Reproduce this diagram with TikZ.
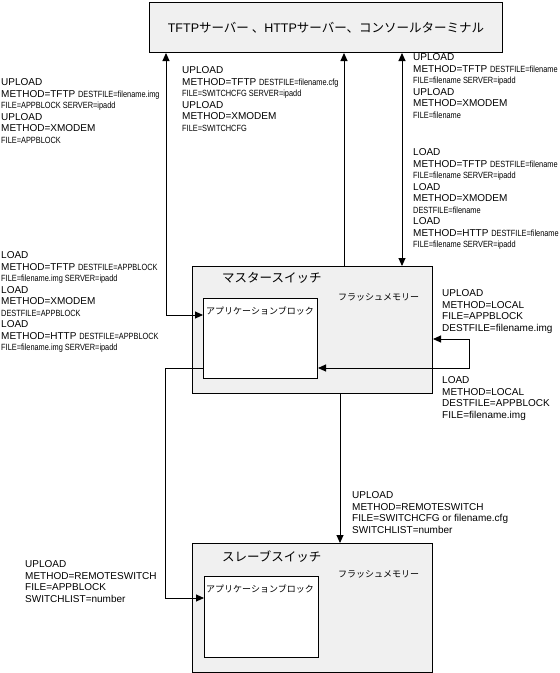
\documentclass[tikz,border=0pt]{standalone}
\usepackage{fontspec}
\setmainfont{Liberation Sans}
\newfontfamily\jpfont{Noto Sans CJK JP}
\newfontfamily\narrowsans[FakeStretch=0.82]{Liberation Sans}
\usepackage{tikz}
\usetikzlibrary{arrows.meta, positioning}
\definecolor{BoxGray}{RGB}{240,240,240}
\newcommand{\jp}[1]{{\jpfont #1}}
\newcommand{\nar}[1]{{\fontsize{9}{11.5}\selectfont\narrowsans #1}}

\begin{document}
\begin{tikzpicture}[x=1pt, y=-1pt, font=\fontsize{10}{11.5}\selectfont,
	box/.style={draw, line width=1pt, fill=BoxGray, anchor=north west, inner sep=0pt},
	appbox/.style={draw, line width=1pt, fill=white, anchor=north west, inner sep=0pt},
	lbl/.style={anchor=north west, align=left, inner sep=0pt},
	flow/.style={line width=0.9pt, -{Triangle[length=8pt, width=7pt]}},
	flowboth/.style={line width=0.9pt, {Triangle[length=8pt, width=7pt]}-{Triangle[length=8pt, width=7pt]}}]
	\useasboundingbox (0,0) rectangle (560,673);
	% server
	\node[box, minimum width=353pt, minimum height=50pt, font=\fontsize{12.5}{14}\selectfont] (server) at (149,2)
		{TFTP\jp{サーバー 、}HTTP\jp{サーバー、コンソールターミナル}};
	% master switch
	\node[box, minimum width=240pt, minimum height=127pt] (master) at (192,266) {};
	\node[appbox, minimum width=114pt, minimum height=80pt] (mapp) at (203,298) {};
	\node[anchor=west, inner sep=0pt, font=\fontsize{12.5}{14}\jpfont] (mtitle) at (222,278) {マスタースイッチ};
	\node[anchor=west, inner sep=0pt, font=\fontsize{9}{11}\jpfont] (mflash) at (338,297) {フラッシュメモリー};
	\node[anchor=west, inner sep=0pt, font=\fontsize{9}{11}\jpfont] (mapptext) at (206,311) {アプリケーションブロック};
	% slave switch
	\node[box, minimum width=240pt, minimum height=129pt] (slave) at (192,543) {};
	\node[appbox, minimum width=114pt, minimum height=81pt] (sapp) at (204,576) {};
	\node[anchor=west, inner sep=0pt, font=\fontsize{12.5}{14}\jpfont] (stitle) at (222,557) {スレーブスイッチ};
	\node[anchor=west, inner sep=0pt, font=\fontsize{9}{11}\jpfont] (sflash) at (338,574) {フラッシュメモリー};
	\node[anchor=west, inner sep=0pt, font=\fontsize{9}{11}\jpfont] (sapptext) at (206,589) {アプリケーションブロック};
	% bends
	\coordinate (lbend) at (166,315);
	\coordinate (cmid) at (344,0);
	\coordinate (cright) at (402,0);
	\coordinate (rtop) at (469,339);
	\coordinate (rlow) at (469,368);
	\coordinate (cdown) at (340,0);
	\coordinate (ltop) at (165,368);
	\coordinate (lbot) at (165,598);
	% connectors
	\draw[flowboth] (server.south -| lbend) -- (lbend) -- (lbend -| mapp.west);
	\draw[flow] (master.north -| cmid) -- (server.south -| cmid);
	\draw[flowboth] (server.south -| cright) -- (master.north -| cright);
	\draw[flowboth] (master.east |- rtop) -- (rtop) -- (rlow) -- (rlow -| mapp.east);
	\draw[flow] (master.south -| cdown) -- (slave.north -| cdown);
	\draw[flow] (ltop -| mapp.west) -- (ltop) -- (lbot) -- (lbot -| sapp.west);
	% labels
	\node[lbl] (upapp) at (1,78.4) {UPLOAD\\METHOD=TFTP \nar{DESTFILE=filename.img}\\
		\nar{FILE=APPBLOCK SERVER=ipadd}\\UPLOAD\\METHOD=XMODEM\\\nar{FILE=APPBLOCK}};
	\node[lbl] (upcfg) at (182,66.4) {UPLOAD\\METHOD=TFTP \nar{DESTFILE=filename.cfg}\\
		\nar{FILE=SWITCHCFG SERVER=ipadd}\\UPLOAD\\METHOD=XMODEM\\\nar{FILE=SWITCHCFG}};
	\node[lbl] (upfile) at (413,53.4) {UPLOAD\\METHOD=TFTP \nar{DESTFILE=filename}\\
		\nar{FILE=filename SERVER=ipadd}\\UPLOAD\\METHOD=XMODEM\\\nar{FILE=filename}};
	\node[lbl] (loadfile) at (413,148.4) {LOAD\\METHOD=TFTP \nar{DESTFILE=filename}\\
		\nar{FILE=filename SERVER=ipadd}\\LOAD\\METHOD=XMODEM\\\nar{DESTFILE=filename}\\
		LOAD\\METHOD=HTTP \nar{DESTFILE=filename}\\\nar{FILE=filename SERVER=ipadd}};
	\node[lbl] (loadapp) at (1,251.4) {LOAD\\METHOD=TFTP \nar{DESTFILE=APPBLOCK}\\
		\nar{FILE=filename.img SERVER=ipadd}\\LOAD\\METHOD=XMODEM\\\nar{DESTFILE=APPBLOCK}\\
		LOAD\\METHOD=HTTP \nar{DESTFILE=APPBLOCK}\\\nar{FILE=filename.img SERVER=ipadd}};
	\node[lbl] (uplocal) at (442,289.4) {UPLOAD\\METHOD=LOCAL\\FILE=APPBLOCK\\DESTFILE=filename.img};
	\node[lbl] (loadlocal) at (442,376.4) {LOAD\\METHOD=LOCAL\\DESTFILE=APPBLOCK\\FILE=filename.img};
	\node[lbl] (upremcfg) at (352,491.4) {UPLOAD\\METHOD=REMOTESWITCH\\FILE=SWITCHCFG or filename.cfg\\SWITCHLIST=number};
	\node[lbl] (upremapp) at (25,560.4) {UPLOAD\\METHOD=REMOTESWITCH\\FILE=APPBLOCK\\SWITCHLIST=number};
\end{tikzpicture}
\end{document}
